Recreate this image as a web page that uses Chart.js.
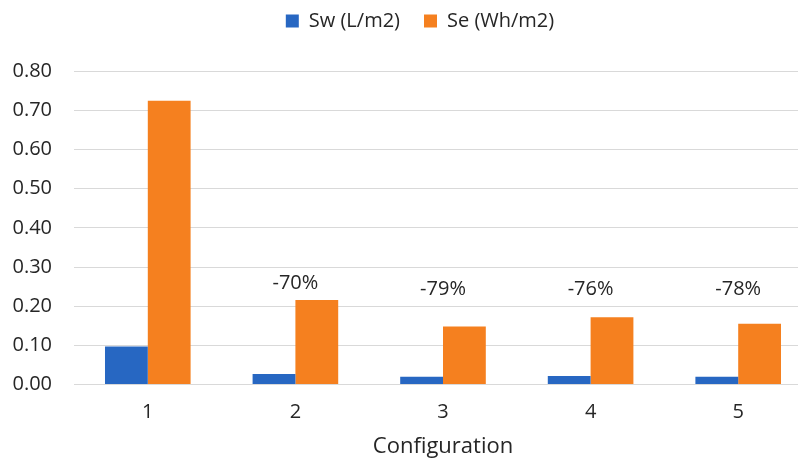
<!DOCTYPE html>
<html>
<head>
<meta charset="utf-8">
<script src="https://cdn.jsdelivr.net/npm/chart.js@4/dist/chart.umd.min.js"></script>
<style>
  html, body { margin: 0; padding: 0; background: #fff; overflow: hidden; }
  #wrap { width: 812px; height: 464px; }
</style>
</head>
<body>
<div id="wrap"><canvas id="chart"></canvas></div>
<script>
// data
const configs = ['1', '2', '3', '4', '5'];
const swValues = [0.097, 0.027, 0.020, 0.022, 0.020];
const seValues = [0.724, 0.216, 0.148, 0.172, 0.155];
const reductionLabels = [null, '-70%', '-79%', '-76%', '-78%'];
const reductionHeights = [null, 0.258, 0.242, 0.242, 0.242];

const FONT = "'Open Sans', sans-serif";
const TEXT = '#262626';

// draws the "-70%" style notes above each group
const reductionNotes = {
  id: 'reductionNotes',
  afterDatasetsDraw(chart) {
    const ctx = chart.ctx;
    const x = chart.scales.x, y = chart.scales.y;
    ctx.save();
    ctx.font = '20px ' + FONT;
    ctx.fillStyle = TEXT;
    ctx.textAlign = 'center';
    ctx.textBaseline = 'middle';
    reductionLabels.forEach((txt, i) => {
      if (!txt) return;
      ctx.fillText(txt, x.getPixelForValue(i), y.getPixelForValue(reductionHeights[i]));
    });
    ctx.restore();
  }
};

// extra room under the legend, and nudge it a bit right
const legendGap = {
  id: 'legendGap',
  beforeInit(chart) {
    const fit = chart.legend.fit;
    chart.legend.fit = function () {
      fit.bind(chart.legend)();
      this.height += 30;
    };
  },
  afterLayout(chart) {
    chart.legend.left += 10;
    chart.legend.right += 10;
  }
};

new Chart(document.getElementById('chart'), {
  type: 'bar',
  data: {
    labels: configs,
    datasets: [
      { label: 'Sw (L/m2)', data: swValues, backgroundColor: '#2767c2' },
      { label: 'Se (Wh/m2)', data: seValues, backgroundColor: '#f5801f' }
    ]
  },
  options: {
    responsive: true,
    maintainAspectRatio: false,
    animation: false,
    categoryPercentage: 0.58,
    barPercentage: 1.0,
    layout: { padding: { top: -13, left: 8, right: 0, bottom: 1 } },
    plugins: {
      tooltip: { enabled: false },
      legend: {
        position: 'top',
        labels: {
          boxWidth: 13, boxHeight: 13, padding: 24,
          color: TEXT,
          font: { family: FONT, size: 20 }
        }
      }
    },
    scales: {
      x: {
        grid: { display: false },
        border: { color: '#d9d9d9', width: 1 },
        ticks: { color: TEXT, font: { family: FONT, size: 20 }, padding: 8 },
        title: {
          display: true, text: 'Configuration', color: TEXT,
          font: { family: FONT, size: 22 }, padding: { top: 1, bottom: 3 }
        }
      },
      y: {
        min: 0, max: 0.8,
        afterFit(scale) { scale.width = 66; },
        grid: { color: '#d9d9d9', lineWidth: 1, drawTicks: false },
        border: { display: false },
        ticks: {
          stepSize: 0.1, color: TEXT, padding: 22,
          font: { family: FONT, size: 20 },
          callback: v => v.toFixed(2)
        }
      }
    }
  },
  plugins: [reductionNotes, legendGap]
});
</script>
</body>
</html>
